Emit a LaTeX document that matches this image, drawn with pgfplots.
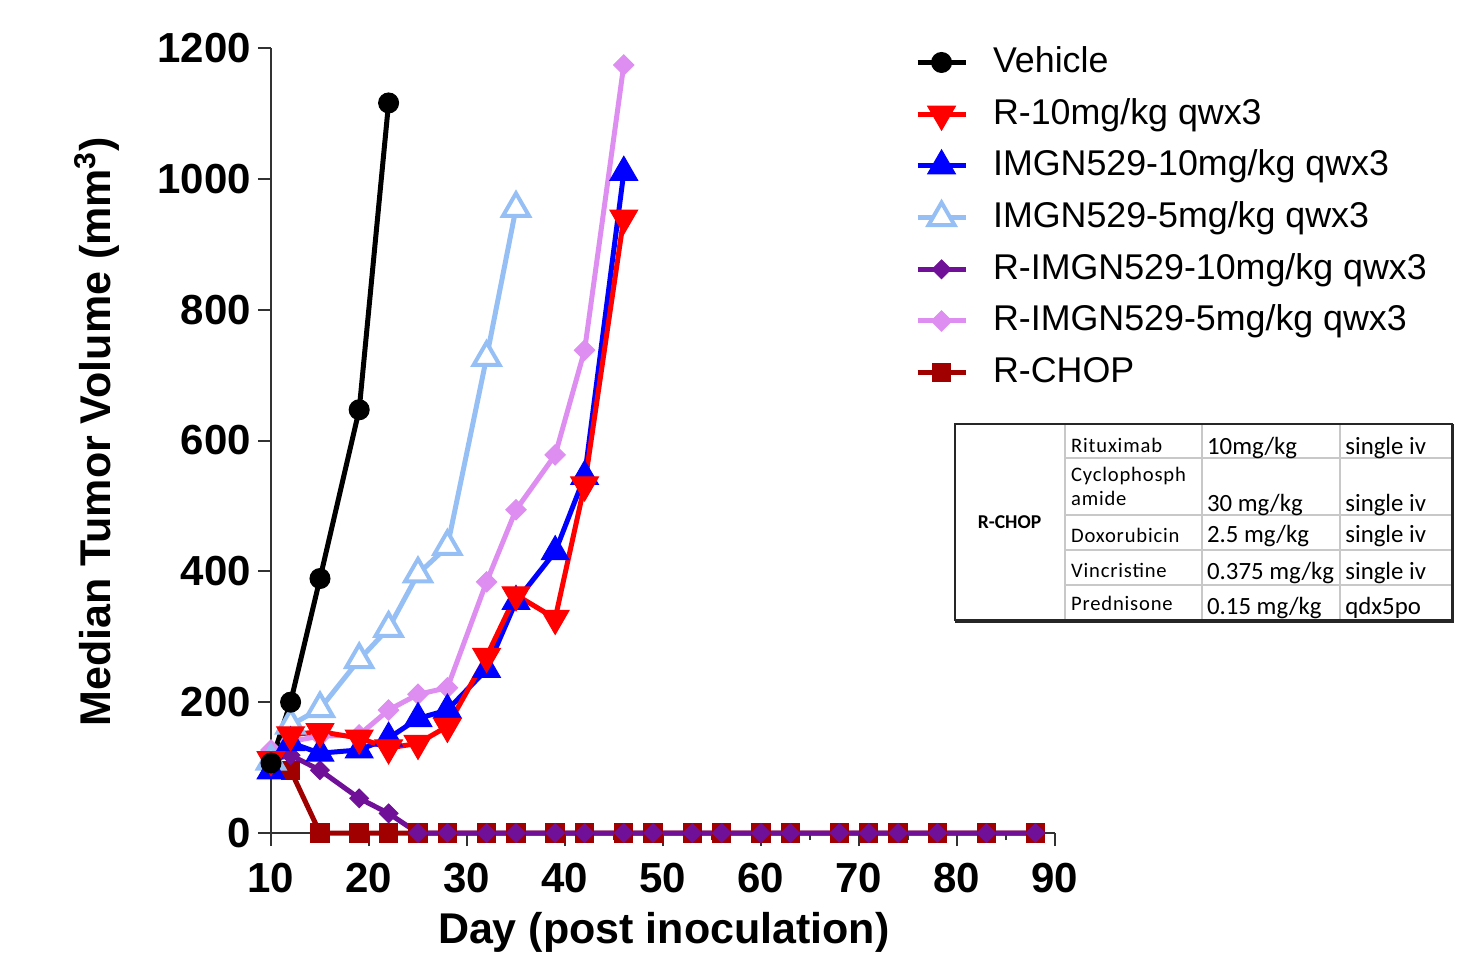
\documentclass[border=0pt]{standalone}
\usepackage{pgfplots}
\pgfplotsset{compat=1.18}
\usepackage{fontspec}
\setmainfont{Liberation Sans}
\newfontfamily\carlito{Carlito}
\newfontfamily\carlitosp[LetterSpace=4]{Carlito}
\definecolor{cLB}{RGB}{150,192,245}
\definecolor{cPur}{RGB}{112,16,152}
\definecolor{cPink}{RGB}{222,142,240}
\definecolor{cDR}{RGB}{160,0,0}
\definecolor{cAx}{RGB}{50,50,50}
\definecolor{cGrid}{RGB}{200,200,200}
\begin{document}
\begin{tikzpicture}
\begin{axis}[
  name=ax, scale only axis, width=392pt, height=392.5pt,
  xmin=10, xmax=90, ymin=0, ymax=1200, clip=false,
  axis lines=left, axis line style={-, line width=1pt, draw=cAx},
  xtick={10,20,...,90}, ytick={0,200,...,1200}, minor x tick num=1,
  tick align=outside, major tick length=6.5pt, minor tick length=3.5pt,
  tick style={line width=1pt, draw=cAx},
  /pgf/number format/assume math mode=true, /pgf/number format/1000 sep={},
  ticklabel style={font=\bfseries\fontsize{21}{21}\selectfont},
  xticklabel style={yshift=-5pt},
  every axis x label/.style={at={(rel axis cs:0.501,-0.126)}, anchor=center},
  every axis y label/.style={at={(rel axis cs:-0.222,0.511)}, rotate=90, anchor=center},
  xlabel={\bfseries\fontsize{21.5}{21.5}\selectfont Day (post inoculation)},
  ylabel={\bfseries\fontsize{21.5}{21.5}\selectfont Median Tumor Volume (mm\textsuperscript{3})},
  reverse legend, legend cell align=left,
  legend style={at={(rel axis cs:0.821,1.005)}, anchor=north west, draw=none, fill=none,
    inner sep=0pt, font=\fontsize{17.9}{17.9}\selectfont, row sep=7.85pt,
    nodes={inner sep=0pt, text height=14pt, text depth=4pt},
    /tikz/every odd column/.append style={column sep=12.5pt}},
  legend image code/.code={\draw[mark repeat=2,mark phase=2,#1] plot coordinates {(0pt,0pt) (12pt,0pt) (24pt,0pt)};},
  every axis plot/.append style={line width=2.5pt},
]
\addplot[cDR, mark=square*, mark size=4.6pt, mark options={fill=cDR, line width=0.5pt}] coordinates {
(10,104)(12,96)(15,0)(19,0)(22,0)(25,0)(28,0)(32,0)(35,0)(39,0)(42,0)(46,0)(49,0)(53,0)(56,0)(60,0)(63,0)(68,0)(71,0)(74,0)(78,0)(83,0)(88,0)};
\addlegendentry{R-CHOP}
\addplot[cPink, mark=square*, mark size=3.6pt, mark options={fill=cPink, line width=0.5pt, rotate=45}] coordinates {
(10,127)(12,140)(15,148)(19,150)(22,188)(25,212)(28,222)(32,384)(35,494)(39,578)(42,738)(46,1174)};
\addlegendentry{R-IMGN529-5mg/kg qwx3}
\addplot[cPur, mark=square*, mark size=3.3pt, mark options={fill=cPur, line width=0.5pt, rotate=45}] coordinates {
(10,112)(12,119)(15,96)(19,53)(22,30)(25,0)(28,0)(32,0)(35,0)(39,0)(42,0)(46,0)(49,0)(53,0)(56,0)(60,0)(63,0)(68,0)(71,0)(74,0)(78,0)(83,0)(88,0)};
\addlegendentry{R-IMGN529-10mg/kg qwx3}
\addplot[cLB, mark=triangle*, mark size=7.5pt, mark options={fill=white, line width=2pt}] coordinates {
(10,110)(12,165)(15,190)(19,265)(22,313)(25,396)(28,438)(32,727)(35,955)};
\addlegendentry{IMGN529-5mg/kg qwx3}
\addplot[blue, mark=triangle*, mark size=8pt, mark options={fill=blue, line width=0.5pt}] coordinates {
(10,95)(12,138)(15,122)(19,127)(22,145)(25,175)(28,188)(32,250)(35,354)(39,430)(42,545)(46,1010)};
\addlegendentry{IMGN529-10mg/kg qwx3}
\addplot[red, mark=triangle*, mark size=8pt, mark options={fill=red, line width=0.5pt, rotate=180}] coordinates {
(10,112)(12,150)(15,155)(19,145)(22,130)(25,137)(28,163)(32,270)(35,364)(39,328)(42,532)(46,940)};
\addlegendentry{R-10mg/kg qwx3}
\addplot[black, mark=*, mark size=5pt, mark options={fill=black, line width=0.5pt}] coordinates {
(10,107)(12,200)(15,389)(19,647)(22,1116)};
\addlegendentry{Vehicle}
\coordinate (O) at (rel axis cs:0,0);
\end{axis}
\begin{scope}[shift={(O)}, xshift=-135.5pt, yshift=416.5pt, x=0.5pt, y=-0.5pt]
  \draw[cGrid, line width=1pt] (1065,425)--(1065,620) (1201.7,425)--(1201.7,620) (1340,425)--(1340,620);
  \draw[cGrid, line width=1pt] (1065,457.7)--(1452,457.7) (1065,515)--(1452,515) (1065,550)--(1452,550) (1065,585)--(1452,585);
  \draw[black!85, line width=1.2pt] (955,424) rectangle (1452,620);
  \draw[black!85, line width=1.6pt] (1452.5,424)--(1452.5,621)--(955,621);
  \node[anchor=base, inner sep=0pt, font=\carlito\bfseries\fontsize{9.8}{9.8}\selectfont] at (1009.5,528) {R-CHOP};
  \begin{scope}[every node/.style={anchor=base west, inner sep=0pt, font=\carlitosp\fontsize{10.3}{10.3}\selectfont}]
    \node at (1070.7,452) {Rituximab};
    \node at (1070.7,481) {Cyclophosph};
    \node at (1070.7,505) {amide};
    \node at (1070.7,542) {Doxorubicin};
    \node at (1070.7,577) {Vincristine};
    \node at (1070.7,610) {Prednisone};
  \end{scope}
  \begin{scope}[every node/.style={anchor=base west, inner sep=0pt, font=\carlito\fontsize{12.4}{12.4}\selectfont}]
    \node at (1206.7,454) {10mg/kg};
    \node at (1206.7,511) {30 mg/kg};
    \node at (1206.7,542) {2.5 mg/kg};
    \node at (1206.7,579) {0.375 mg/kg};
    \node at (1206.7,614) {0.15 mg/kg};
    \node at (1345,454) {single iv};
    \node at (1345,511) {single iv};
    \node at (1345,542) {single iv};
    \node at (1345,579) {single iv};
    \node at (1345,614) {qdx5po};
  \end{scope}
  \pgfresetboundingbox
  \path[use as bounding box] (0,0) rectangle (1478,966);
\end{scope}
\end{tikzpicture}
\end{document}
